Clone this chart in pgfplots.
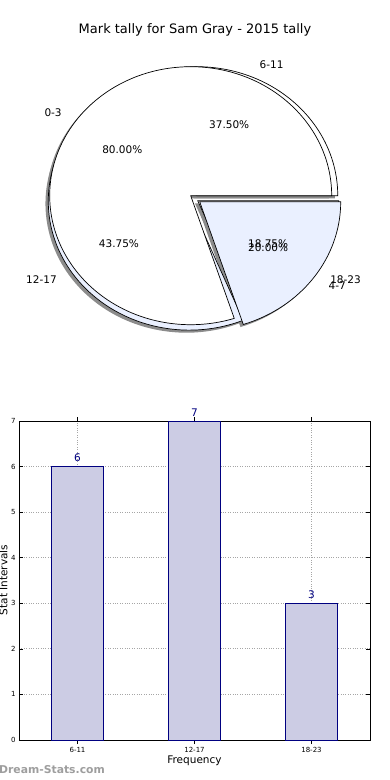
\documentclass[border=0pt]{standalone}
\usepackage{pgfplots}
\pgfplotsset{compat=1.18}
\usepackage{fontspec}
\setmainfont{DejaVu Sans}
\definecolor{navyc}{RGB}{0,0,128}
\definecolor{barfill}{RGB}{204,204,228}
\definecolor{pieblue}{RGB}{234,240,255}
% pie 1: 6-11, 12-17, 18-23 ; pie 2: 0-3, 4-7
\def\vA{6}\def\vB{7}\def\vC{3}
\pgfmathsetmacro\tot{\vA+\vB+\vC}
\pgfmathsetmacro\aAB{360*(\vA/\tot)}
\pgfmathsetmacro\aBC{360*((\vA+\vB)/\tot)}
\def\wA{80}\def\wB{20}
\pgfmathsetmacro\bAB{360*(\wA/(\wA+\wB))}
\newcommand\slice[5]{\path[#5] (axis cs:#1,#2) -- ++(#3:1) arc[start angle=#3,end angle=#4,radius=1] -- cycle;}
\tikzset{wedge/.style={draw=black,line width=0.7pt,line join=miter},
  shad/.style={fill=black!45,draw=none}}
\newcommand\lbl{\fontsize{10.5}{12}\selectfont}
\begin{document}
\begin{tikzpicture}
\path[use as bounding box] (0,0) rectangle (390pt,-780pt);
\node at (195pt,-30pt) {\fontsize{13}{15}\selectfont Mark tally for Sam Gray - 2015 tally};
\begin{axis}[at={(21.5pt,-363.4pt)}, anchor=south west, scale only axis,
  x=141pt, y=129pt, xmin=-1.2, xmax=1.2, ymin=-1.3, ymax=1.3,
  hide axis, clip=false, disabledatascaling]
% shadows
\slice{0.023}{-0.02}{0}{\aAB}{shad}
\slice{-0.03}{-0.062}{\aAB}{\aBC}{shad}
\slice{0.03}{-0.059}{\aBC}{360}{shad}
\slice{-0.02}{-0.02}{0}{\bAB}{shad}
\slice{0.044}{-0.067}{\bAB}{360}{shad}
% pie 1
\slice{0.043}{0}{0}{\aAB}{wedge,fill=white}
\slice{-0.01}{-0.042}{\aAB}{\aBC}{wedge,fill=pieblue}
\slice{0.05}{-0.039}{\aBC}{360}{wedge,fill=white}
% pie 2
\slice{0}{0}{0}{\bAB}{wedge,fill=white}
\slice{0.064}{-0.047}{\bAB}{360}{wedge,fill=pieblue}
% labels
\node[anchor=west] at (axis cs:0.464,1.016) {\lbl 6-11};
\node at (axis cs:0.273,0.554) {\lbl 37.50\%};
\node[anchor=east] at (axis cs:-0.925,-0.653) {\lbl 12-17};
\node at (axis cs:-0.509,-0.375) {\lbl 43.75\%};
\node[anchor=west] at (axis cs:0.965,-0.650) {\lbl 18-23};
\node at (axis cs:0.549,-0.372) {\lbl 18.75\%};
\node[anchor=east] at (axis cs:-0.890,0.647) {\lbl 0-3};
\node at (axis cs:-0.485,0.353) {\lbl 80.00\%};
\node[anchor=west] at (axis cs:0.954,-0.694) {\lbl 4-7};
\node at (axis cs:0.549,-0.400) {\lbl 20.00\%};
\end{axis}
\begin{axis}[at={(19pt,-740pt)}, anchor=south west, scale only axis,
  width=351pt, height=319pt, xmin=-0.5, xmax=2.5, ymin=0, ymax=7,
  xtick={0,1,2}, xticklabels={6-11,12-17,18-23}, ytick={0,1,...,7},
  grid=major, grid style={dotted, black!35, line width=0.8pt},
  tick align=inside, major tick length=4pt,
  tick style={black, line width=0.6pt},
  axis line style={black, line width=0.8pt},
  ticklabel style={font=\fontsize{7}{8}\selectfont},
  /pgf/number format/assume math mode=true,
  ybar, bar width=0.445, clip=false,
  nodes near coords, nodes near coords style={text=navyc, font=\lbl, inner sep=2.5pt, yshift=2pt}]
\addplot[fill=barfill, draw=navyc, line width=0.7pt] coordinates {(0,6) (1,7) (2,3)};
\end{axis}
\node at (194.5pt,-761pt) {\lbl Frequency};
\node[rotate=90] at (3.5pt,-580pt) {\lbl Stat Intervals};
\node[anchor=west, text=black!38, inner sep=0pt] at (-1pt,-770pt) {\fontsize{10.8}{12}\selectfont\bfseries Dream-Stats.com};
\end{tikzpicture}
\end{document}
